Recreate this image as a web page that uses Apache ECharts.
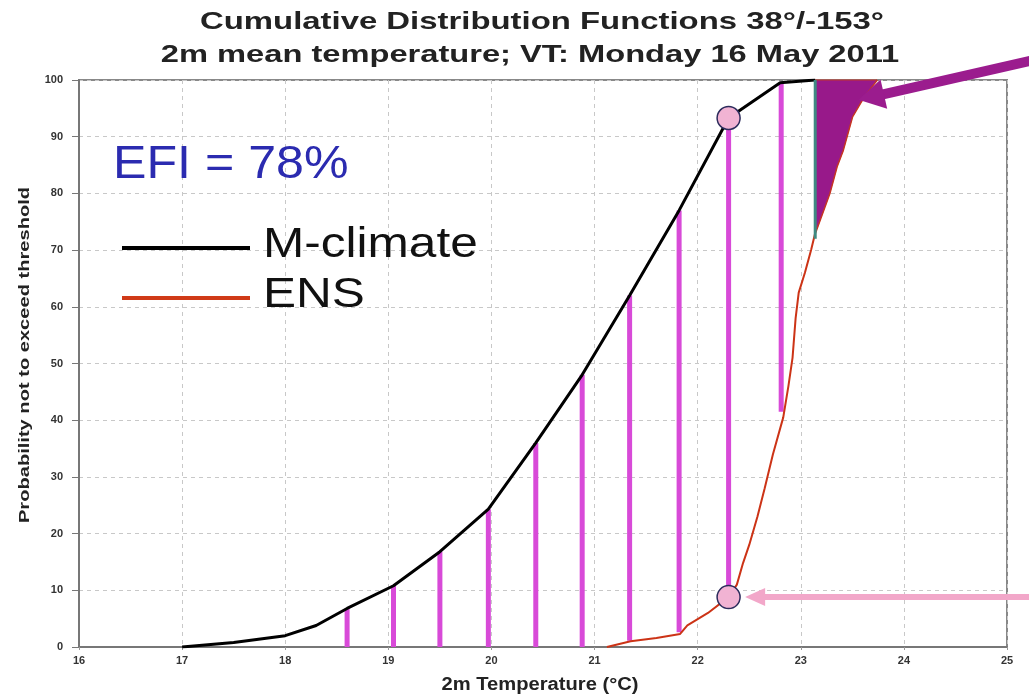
<!DOCTYPE html>
<html lang="en">
<head>
    <meta charset="UTF-8">
    <title>CDF 38/-153</title>
    <style>
        html, body { margin: 0; padding: 0; background: #fff; }
    </style>
</head>
<body>
<div class="main" style="width: 1029px;height:696px;"></div>
</body>
<script src="https://cdn.jsdelivr.net/npm/echarts@6/dist/echarts.min.js"></script>
<script>
    var FONT = "'Liberation Sans', Arial, sans-serif";

    // M-climate CDF (temperature, probability)
    var mclimX = [17, 17.5, 18, 18.3, 18.6, 19.05, 19.5, 19.97, 20.43, 20.88, 21.34, 21.82, 22.3, 22.8, 23.14];
    var mclimY = [0, 0.8, 2, 3.8, 6.8, 10.8, 16.8, 24.3, 36, 48, 62, 77, 93.3, 99.5, 100];

    // ENS CDF
    var ensX = [21.12, 21.35, 21.6, 21.83, 21.9, 22.1, 22.3, 22.38, 22.44, 22.5, 22.58, 22.65, 22.73, 22.83, 22.88, 22.92, 22.95, 22.98, 23.04, 23.1, 23.14, 23.2, 23.28, 23.35, 23.41, 23.5, 23.58, 23.64, 23.74];
    var ensY = [0, 1, 1.6, 2.3, 3.8, 6, 8.8, 11, 14.8, 18, 23, 28, 34, 40.5, 46, 51, 58, 62.5, 66, 70, 73, 76, 80, 84.7, 87.6, 93.5, 96, 97.7, 100];

    // magenta bars: from ENS (or 0) up to M-climate
    var barX    = [18.6, 19.05, 19.5, 19.97, 20.43, 20.88, 21.34, 21.82, 22.3, 22.81];
    var barLow  = [0, 0, 0, 0, 0, 0, 1.1, 2.6, 8.8, 41.5];
    var barHigh = [6.8, 10.8, 16.8, 24.3, 36, 48, 62, 77, 93.3, 99.3];

    // the two circled points
    var circles = [[22.3, 93.3], [22.3, 8.8]];

    // arrows: start x, start y, tip x, tip y
    var arrows = [[25.25, 103.5, 23.56, 96.5], [25.25, 8.8, 22.46, 8.8]];
    var arrowStyles = [
        {color: '#9b1c8e', width: 10, head: 26, headW: 30},
        {color: '#f2a7c9', width: 6, head: 20, headW: 18}
    ];

    var titleLines = ['Cumulative Distribution Functions 38°/-153°', '2m mean temperature; VT: Monday 16 May 2011'];
    var efiText = 'EFI = 78%';
    var legendNames = ['M-climate', 'ENS'];
    var legendColors = ['#000', '#d03a18'];

    var main = document.getElementsByClassName('main')[0];
    var myChart = echarts.init(main);

    var mclimData = mclimX.map(function (x, i) { return [x, mclimY[i]]; });
    var ensData = ensX.map(function (x, i) { return [x, ensY[i]]; });
    var barData = barX.map(function (x, i) { return [x, barLow[i], barHigh[i]]; });

    // purple area between M-climate (=100) and ENS on the right
    var fillStart = 23.14;
    var fillPts = [[fillStart, 100]];
    ensData.forEach(function (p) {
        if (p[0] >= fillStart) fillPts.push(p);
    });

    // texts are stretched sideways in the original picture
    function label(text, x, y, size, opts) {
        opts = opts || {};
        return {
            type: 'text',
            x: x, y: y,
            scaleX: opts.sx || 1,
            rotation: opts.rot || 0,
            z: 10,
            style: {
                text: text,
                fontFamily: FONT,
                fontSize: size,
                fontWeight: opts.bold ? 'bold' : 'normal',
                fill: opts.color || '#222',
                align: opts.align || 'center',
                verticalAlign: 'middle'
            }
        };
    }

    var graphics = [
        label(titleLines[0], 542, 22, 24, {bold: true, sx: 1.37}),
        label(titleLines[1], 530, 55, 24, {bold: true, sx: 1.36}),
        label(efiText, 113, 165, 46, {align: 'left', sx: 1.09, color: '#2b2bb0'}),
        label('2m Temperature (°C)', 540, 685, 18, {bold: true, sx: 1.12}),
        label('Probability not to exceed threshold', 25, 355, 15, {bold: true, sx: 1.34, rot: Math.PI / 2})
    ];
    // legend
    legendNames.forEach(function (n, i) {
        var y = 247 + i * 50;
        graphics.push({
            type: 'line', z: 10,
            shape: {x1: 122, y1: y + 1, x2: 250, y2: y + 1},
            style: {stroke: legendColors[i], lineWidth: 4}
        });
        graphics.push(label(n, 263, y - 2, 42, {align: 'left', sx: 1.18, color: '#111'}));
    });

    var option = {
        animation: false,
        graphic: graphics,
        grid: {
            left: 79, right: 22, top: 80, bottom: 49,
            show: true, borderColor: '#888', borderWidth: 2
        },
        xAxis: {
            type: 'value',
            min: 16, max: 25, interval: 1,
            axisLine: {lineStyle: {color: '#777', width: 2}},
            axisTick: {show: true, length: 3, lineStyle: {color: '#999'}},
            axisLabel: {fontFamily: FONT, fontSize: 11, fontWeight: 'bold', color: '#333', margin: 8},
            splitLine: {show: true, lineStyle: {color: '#c8c8c8', type: [4, 4]}}
        },
        yAxis: {
            type: 'value',
            min: 0, max: 100, interval: 10,
            axisLine: {show: true, lineStyle: {color: '#777', width: 2}},
            axisTick: {show: true, length: 7, lineStyle: {color: '#777'}},
            axisLabel: {fontFamily: FONT, fontSize: 11, fontWeight: 'bold', color: '#333', margin: 16},
            splitLine: {show: true, lineStyle: {color: '#c8c8c8', type: [4, 4]}}
        },
        series: [
            {
                name: 'bars',
                type: 'custom',
                data: barData,
                encode: {x: 0, y: [1, 2]},
                renderItem: function (params, api) {
                    var p1 = api.coord([api.value(0), api.value(1)]);
                    var p2 = api.coord([api.value(0), api.value(2)]);
                    return {
                        type: 'line',
                        shape: {x1: p1[0], y1: p1[1], x2: p2[0], y2: p2[1]},
                        style: {stroke: '#d84ad8', lineWidth: 5}
                    };
                },
                z: 2
            },
            {
                name: 'M-climate',
                type: 'line',
                data: mclimData,
                symbol: 'none',
                lineStyle: {color: '#000', width: 3},
                z: 3
            },
            {
                name: 'ENS',
                type: 'line',
                data: ensData,
                symbol: 'none',
                lineStyle: {color: '#cc3316', width: 2},
                z: 3
            },
            {
                name: 'fill',
                type: 'custom',
                data: [[fillStart, 100]],
                renderItem: function (params, api) {
                    var pts = fillPts.map(function (p) { return api.coord(p); });
                    var top = api.coord([fillStart, 100]);
                    var bot = api.coord([fillStart, fillPts[1][1] - 1]);
                    return {
                        type: 'group',
                        children: [{
                            type: 'polygon',
                            shape: {points: pts},
                            style: {fill: '#98198a', stroke: '#c2352a', lineWidth: 1}
                        }, {
                            type: 'line',
                            shape: {x1: top[0], y1: top[1], x2: bot[0], y2: bot[1]},
                            style: {stroke: '#3f8a82', lineWidth: 3}
                        }]
                    };
                },
                z: 4
            },
            {
                name: 'points',
                type: 'scatter',
                data: circles,
                symbolSize: 23,
                itemStyle: {color: '#f1b3d3', borderColor: '#2c2c5c', borderWidth: 1.5, opacity: 1},
                z: 5
            },
            {
                name: 'arrows',
                type: 'custom',
                data: arrows,
                clip: false,
                renderItem: function (params, api) {
                    var s = arrowStyles[params.dataIndex];
                    var a = api.coord([api.value(0), api.value(1)]);
                    var b = api.coord([api.value(2), api.value(3)]);
                    var dx = b[0] - a[0], dy = b[1] - a[1];
                    var len = Math.sqrt(dx * dx + dy * dy);
                    var ux = dx / len, uy = dy / len;
                    var nx = -uy, ny = ux;
                    var bx = b[0] - ux * s.head, by = b[1] - uy * s.head;
                    return {
                        type: 'group',
                        children: [{
                            type: 'line',
                            shape: {x1: a[0], y1: a[1], x2: bx + ux * 2, y2: by + uy * 2},
                            style: {stroke: s.color, lineWidth: s.width}
                        }, {
                            type: 'polygon',
                            shape: {points: [
                                [b[0], b[1]],
                                [bx + nx * s.headW / 2, by + ny * s.headW / 2],
                                [bx - nx * s.headW / 2, by - ny * s.headW / 2]
                            ]},
                            style: {fill: s.color}
                        }]
                    };
                },
                z: 6
            }
        ]
    };

    myChart.setOption(option);
</script>
</html>
